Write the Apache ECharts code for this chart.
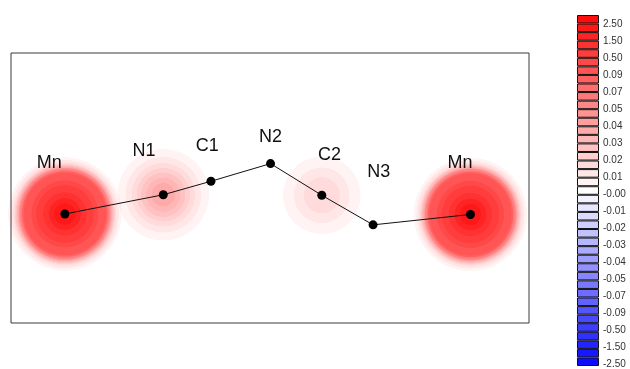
<!DOCTYPE html>
<html><head><meta charset="utf-8">
<script src="https://cdn.jsdelivr.net/npm/echarts@6/dist/echarts.min.js"></script>
<style>html,body{margin:0;padding:0;background:#fff}#c{width:630px;height:369px}</style>
</head><body><div id="c"></div>
<script>
// ---- data ----
const atomNames = ['Mn', 'N1', 'C1', 'N2', 'C2', 'N3', 'Mn'];
const atomX = [1.04, 2.94, 3.86, 5.01, 6.00, 6.99, 8.87];
const atomY = [2.10, 2.47, 2.73, 3.07, 2.46, 1.89, 2.09];
const spinDensity = [2.5, 0.04, 0.004, -0.002, 0.02, 0.003, 2.5];
const labelX = [0.74, 2.57, 3.79, 5.01, 6.15, 7.10, 8.67];
const labelY = [3.08, 3.32, 3.40, 3.59, 3.23, 2.91, 3.08];
const levelLabels = ['2.50','1.50','0.50','0.09','0.07','0.05','0.04','0.03','0.02','0.01','-0.00',
  '-0.01','-0.02','-0.03','-0.04','-0.05','-0.07','-0.09','-0.50','-1.50','-2.50'];
const levelValues = levelLabels.map(Number);
const boxCount = 41;

// ---- style helpers ----
function boxRGB(k) {
  if (k < 20) { const v = Math.round(255 * (k + 1) / 21); return [255, v, v]; }
  if (k === 20) return [255, 255, 255];
  const j = k - 20; const v = Math.round(255 * (21 - j) / 21); return [v, v, 255];
}
function boxColor(k) { const c = boxRGB(k); return 'rgb(' + c.join(',') + ')'; }
function boxColorAlpha(k) {
  if (k < 20) { const c = boxRGB(k); return 'rgba(255,0,0,' + (1 - c[1] / 255).toFixed(3) + ')'; }
  if (k === 20) return 'rgba(255,255,255,0)';
  const c = boxRGB(k); return 'rgba(0,0,255,' + (1 - c[0] / 255).toFixed(3) + ')';
}
function levelPos(v) {
  const n = levelValues.length;
  if (v >= levelValues[0]) return 0;
  if (v <= levelValues[n - 1]) return n - 1;
  for (let i = 0; i < n - 1; i++) {
    const a = levelValues[i], b = levelValues[i + 1];
    if (v <= a && v >= b) return i + (a - v) / (a - b);
  }
  return n - 1;
}
// colorbar: boxes span 351px, labels span 341px starting 9px below top
function boxFor(v) {
  const y = 9 + 341 * levelPos(v) / 20;
  return Math.max(0, Math.min(boxCount - 1, Math.floor(y / (351 / boxCount))));
}
function blobGradient(s) {
  const stops = [];
  const n = 120, floor = 0.005 * Math.sign(s);
  for (let i = 0; i <= n; i++) {
    const t = i / n;
    const rho = s * Math.pow(floor / s, t * t);
    stops.push({ offset: t, color: i === n ? 'rgba(255,255,255,0)' : boxColorAlpha(boxFor(rho)) });
  }
  return { type: 'radial', x: 0.5, y: 0.5, r: 0.5, colorStops: stops };
}
function blobSize(s) { return Math.min(114, 44 + 240 * Math.sqrt(Math.abs(s))); }

const blobData = [];
atomNames.forEach((n, i) => {
  if (Math.abs(spinDensity[i]) >= 0.01) {
    blobData.push({ value: [atomX[i], atomY[i], spinDensity[i]], itemStyle: { color: blobGradient(spinDensity[i]), opacity: 1 } });
  }
});
const chainData = atomNames.map((n, i) => [atomX[i], atomY[i]]);
const labelData = atomNames.map((n, i) => ({ value: [labelX[i], labelY[i]], name: n }));
const boxData = [];
for (let k = 0; k < boxCount; k++) boxData.push({ value: 1, itemStyle: { color: boxColor(k) } });

const chart = echarts.init(document.getElementById('c'), null, { renderer: 'canvas' });
chart.setOption({
  animation: false,
  backgroundColor: '#fff',
  grid: [
    { left: 11, top: 53, width: 518, height: 270, show: true, borderColor: '#3a3a3a', borderWidth: 1, backgroundColor: '#fff' },
    { left: 577, top: 15, width: 22, height: 351 },
    { left: 577, top: 24, width: 22, height: 341 }
  ],
  xAxis: [
    { gridIndex: 0, type: 'value', min: 0, max: 10, show: false },
    { gridIndex: 1, type: 'value', min: 0, max: 1, show: false },
    { gridIndex: 2, type: 'value', min: 0, max: 1, show: false }
  ],
  yAxis: [
    { gridIndex: 0, type: 'value', min: 0, max: 5.2, show: false },
    { gridIndex: 1, type: 'category', inverse: true, data: boxData.map((d, k) => k), show: false },
    { gridIndex: 2, type: 'value', min: 0, max: 20, interval: 1, inverse: true, position: 'right',
      axisLine: { show: false }, axisTick: { show: false }, splitLine: { show: false },
      axisLabel: { show: true, margin: 4, fontSize: 10, color: '#333', fontFamily: 'Liberation Sans, Arial, sans-serif',
        formatter: v => levelLabels[Math.round(v)] } }
  ],
  series: [
    { type: 'scatter', xAxisIndex: 0, yAxisIndex: 0, silent: true, z: 1,
      symbolSize: v => blobSize(v[2]), data: blobData },
    { type: 'line', xAxisIndex: 0, yAxisIndex: 0, silent: true, z: 3,
      data: chainData, symbol: 'circle', symbolSize: 9, showAllSymbol: true,
      lineStyle: { color: '#111', width: 1 }, itemStyle: { color: '#000', borderWidth: 0 } },
    { type: 'scatter', xAxisIndex: 0, yAxisIndex: 0, silent: true, z: 4,
      symbolSize: 1, itemStyle: { color: 'rgba(0,0,0,0)', opacity: 1 }, data: labelData,
      label: { show: true, position: 'inside', formatter: p => p.name, fontSize: 18, color: '#111', opacity: 1,
        textBorderWidth: 0, fontFamily: 'Liberation Sans, Arial, sans-serif' } },
    { type: 'bar', xAxisIndex: 1, yAxisIndex: 1, silent: true, barCategoryGap: '0%', barWidth: '100%',
      data: boxData, itemStyle: { borderColor: '#111', borderWidth: 1 } },
    { type: 'scatter', xAxisIndex: 2, yAxisIndex: 2, data: [] }
  ]
});
</script></body></html>
